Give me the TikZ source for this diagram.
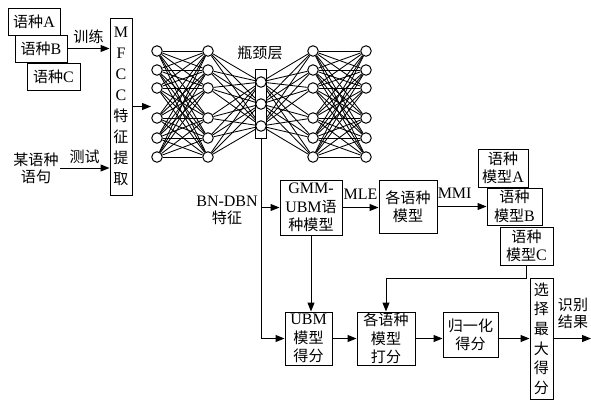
\documentclass[tikz,border=0pt]{standalone}
\usepackage{fontspec}
\setmainfont{Liberation Serif}
\newfontfamily\cjk[Scale=0.94]{Noto Sans CJK SC}
\usetikzlibrary{arrows.meta,positioning,backgrounds}
\newcommand{\zh}[1]{{\cjk #1}}
\tikzset{
  box/.style    ={draw=black,line width=1pt,fill=white,align=center,inner sep=1pt,
                  font=\fontsize{16}{18.5}\selectfont},
  vbox/.style   ={box,font=\fontsize{16}{21}\selectfont},
  lbl/.style    ={align=center,inner sep=1pt,font=\fontsize{16}{17}\selectfont},
  neuron/.style ={circle,draw=black,line width=1pt,fill=white,minimum size=10.5pt,inner sep=0pt},
  link/.style   ={line width=.85pt},
  a/.style      ={-{Triangle[length=9pt,width=7pt]},line width=1pt},
}
\begin{document}
\begin{tikzpicture}[x=1pt,y=-1pt]
  \useasboundingbox (0,0) rectangle (591,400);
  % training and test input
  \node[box,minimum width=52,minimum height=27] (langa) at (34,21.5) {\zh{语种}A};
  \node[box,minimum width=52,minimum height=27] (langb) at (41,48.5) {\zh{语种}B};
  \node[box,minimum width=53,minimum height=27] (langc) at (53.5,76.5) {\zh{语种}C};
  \node[lbl] (src) at (36,168) {\zh{某语种}\\\zh{语句}};
  \node[vbox,minimum width=22,minimum height=177] (mfcc) at (121,106.5)
        {M\\F\\C\\C\\\zh{特}\\\zh{征}\\\zh{提}\\\zh{取}};
  \draw[a] (langb.east) -- (mfcc.west |- langb.east) node[lbl,midway,above=3pt] {\zh{训练}};
  \draw[a] (src.east) -- (mfcc.west |- src.east) node[lbl,midway,above=3pt] {\zh{测试}};
  \coordinate (netin) at (151,106.5);
  \draw[a] (mfcc.east) -- (netin);

  % bottleneck network
  \node[draw=black,line width=1pt,fill=white,minimum width=11,minimum height=69,inner sep=0pt]
        (bn) at (261,103.5) {};
  \foreach \i/\y in {1/51,2/70,3/88,4/118,5/138,6/157}{
    \foreach \l/\x in {1/157,2/208,4/313,5/366}
      \node[neuron] (l\l-\i) at (\x,\y) {};
  }
  \foreach \i/\y in {1/82,2/104,3/126}
    \node[neuron] (l3-\i) at (261,\y) {};
  \begin{scope}[on background layer]
    \foreach \p in {1,...,6}{
      \foreach \q in {1,...,6}{
        \draw[link] (l1-\p) -- (l2-\q);
        \draw[link] (l4-\p) -- (l5-\q);
      }
      \foreach \q in {1,2,3}{
        \draw[link] (l2-\p) -- (l3-\q);
        \draw[link] (l3-\q) -- (l4-\p);
      }
    }
  \end{scope}
  \node[lbl] (bnlbl) at (260,53) {\zh{瓶颈层}};
  \node[lbl] (bnfeat) at (227,210) {BN-DBN\\\zh{特征}};

  % model training
  \node[box,minimum width=62,minimum height=55] (gmm) at (311,207.5)
        {GMM-\\UBM\zh{语}\\\zh{种模型}};
  \node[box,minimum width=58,minimum height=53] (lmod) at (408,206.5) {\zh{各语种}\\\zh{模型}};
  \node[box,minimum width=50,minimum height=38] (moda) at (503,168) {\zh{语种}\\\zh{模型}A};
  \node[box,minimum width=55,minimum height=37] (modb) at (514.5,206.5) {\zh{语种}\\\zh{模型}B};
  \node[box,minimum width=53,minimum height=38] (modc) at (526.5,246) {\zh{语种}\\\zh{模型}C};
  \draw[a] (bn.south |- gmm.west) -- (gmm.west);
  \draw[a] (gmm.east) -- (lmod.west |- gmm.east) node[lbl,midway,above=7pt] {MLE};
  \draw[a] (lmod.east) -- (modb.west) node[lbl,pos=.35,above=7pt] {MMI};

  % scoring
  \node[box,minimum width=47,minimum height=53] (ubm) at (308.5,338.5) {UBM\\\zh{模型}\\\zh{得分}};
  \node[box,minimum width=58,minimum height=53] (score) at (386,338.5)
        {\zh{各语种}\\\zh{模型}\\\zh{打分}};
  \node[box,minimum width=55,minimum height=45] (norm) at (470.5,335) {\zh{归一化}\\\zh{得分}};
  \node[vbox,font=\fontsize{16}{19.6}\selectfont,minimum width=23,minimum height=121]
        (sel) at (541.5,338.7) {\zh{选}\\\zh{择}\\\zh{最}\\\zh{大}\\\zh{得}\\\zh{分}};
  \node[lbl] (res) at (573,313) {\zh{识别}\\\zh{结果}};
  \coordinate (out) at (591,338.5);
  \draw[a] (bn.south) |- (ubm.west);
  \draw[a] (gmm.south) -- (gmm.south |- ubm.north);
  \draw[a] (modc.south) -- ++(0,13) -| (score.north);
  \draw[a] (ubm.east) -- (score.west);
  \draw[a] (score.east) -- (norm.west |- score.east);
  \draw[a] (norm.east |- score.east) -- (sel.west |- score.east);
  \draw[a] (sel.east |- out) -- (out);
\end{tikzpicture}
\end{document}
